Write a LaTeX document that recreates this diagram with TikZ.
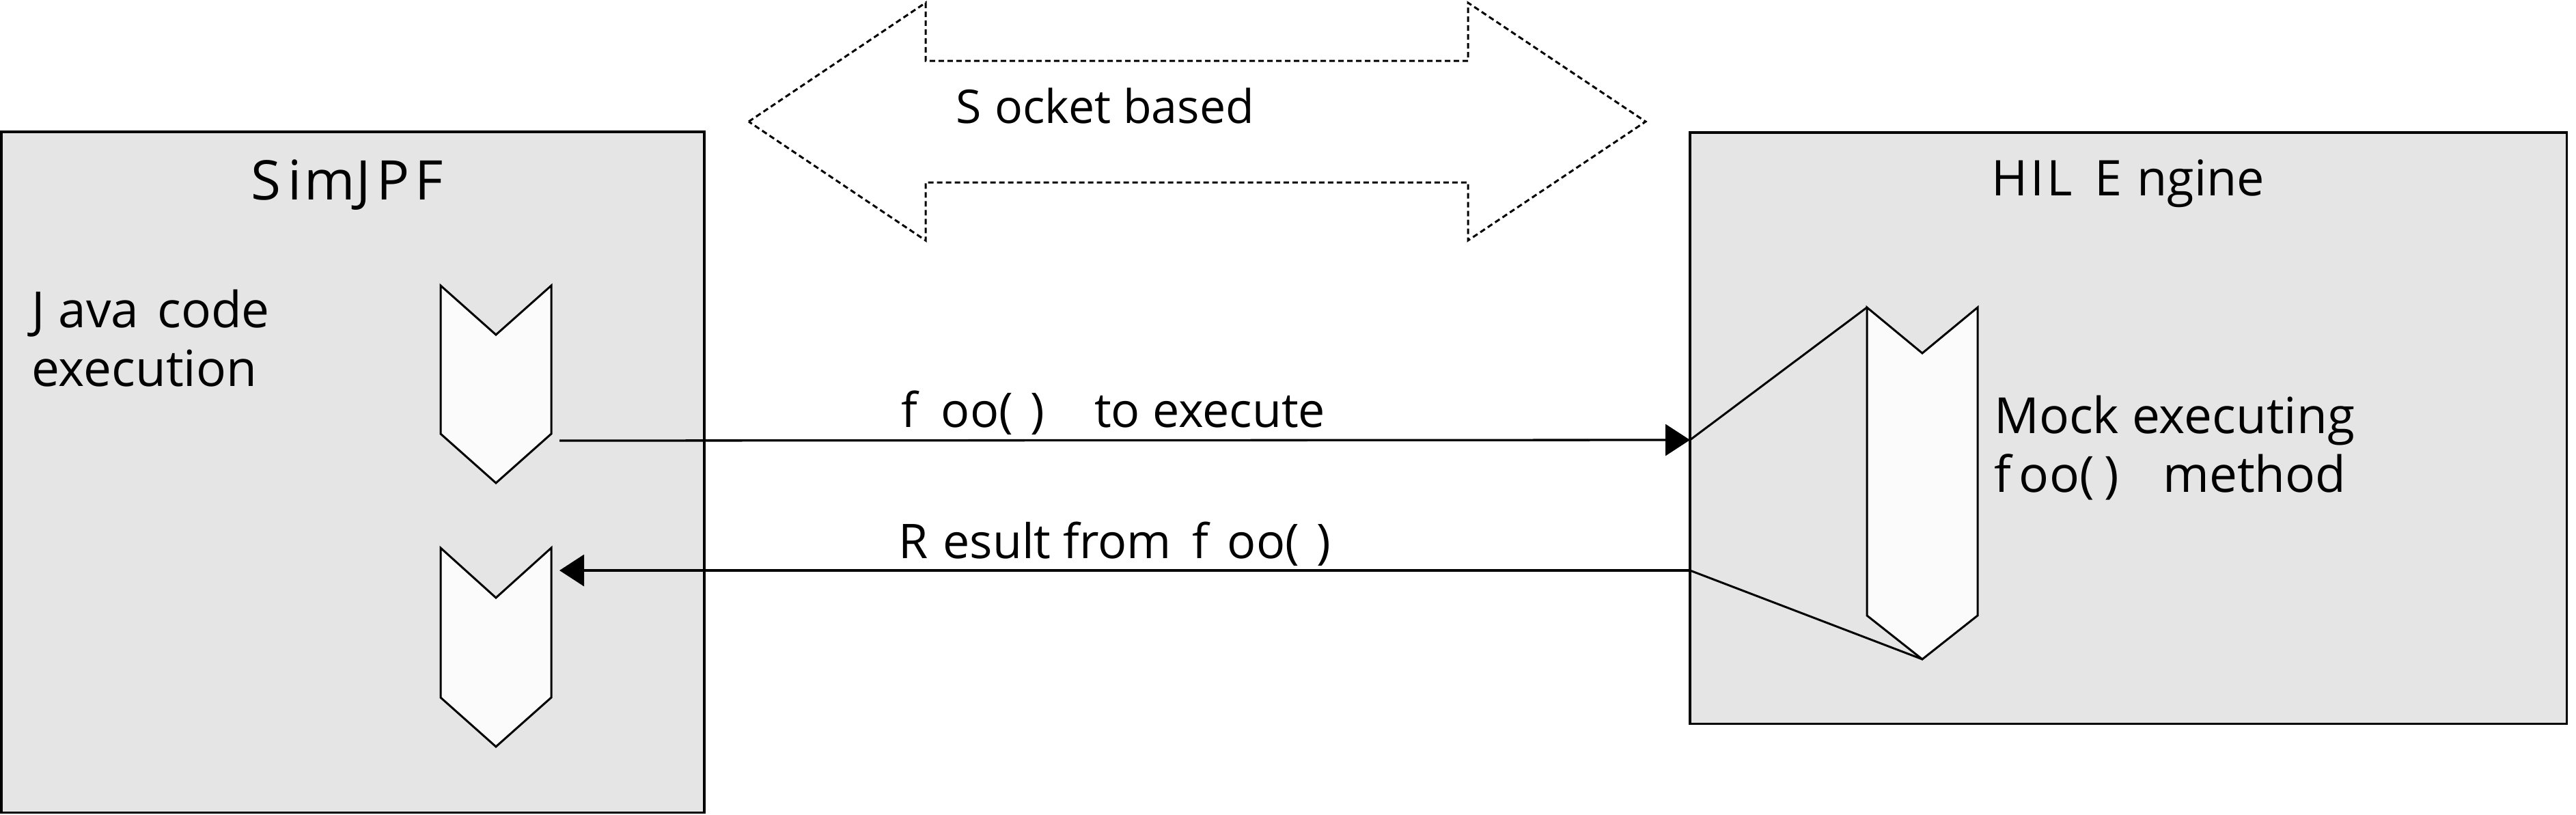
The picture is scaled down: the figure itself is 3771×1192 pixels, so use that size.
\documentclass[tikz,border=0pt]{standalone}
\usepackage{fontspec}
\setmainfont{Open Sans}
\usetikzlibrary{arrows.meta}
\definecolor{boxgray}{RGB}{229,229,229}
\definecolor{chevfill}{RGB}{251,251,251}
\tikzset{
  pane/.style={draw=black, fill=boxgray, line width=3.5pt},
  chev/.style={draw=black, fill=chevfill, line width=3pt, line join=miter},
  socket/.style={draw=black, line width=3pt, dash pattern=on 8pt off 5pt},
  msg/.style={draw=black, line width=3.3pt, -{Triangle[length=36pt,width=46pt]}},
  link/.style={draw=black, line width=3pt},
  lbl/.style={inner sep=0pt, anchor=base west, font=\fontsize{73}{86}\selectfont, align=left},
  lblm/.style={inner sep=0pt, anchor=base west, font=\fontsize{70}{84}\selectfont},
}
\begin{document}
\begin{tikzpicture}[x=1pt,y=-1pt]
\useasboundingbox (0,0) rectangle (3771,1192);
% boxes
\path[pane] (1.75,193) rectangle (1031,1189.5);
\coordinate (simjpf) at (1031,193);
\path[pane] (2474,194) rectangle (3757.5,1059.5);
\coordinate (hil) at (2474,194);
% titles
\node[lbl, font=\fontsize{80}{96}\selectfont] (t1) at (367,292) {S\kern10pt i\kern4pt m\kern2pt J\kern8pt P\kern8pt F};
\node[lbl, font=\fontsize{72}{86}\selectfont] (t2) at (2915,286) {H\kern4pt I\kern4pt L\kern14pt\ E\kern22pt ngine};
% socket arrow
\coordinate (sL) at (1096,178);
\coordinate (sR) at (2409,178);
\path[socket] (sL) -- (1355,4) -- (1355,89) -- (2149,89) -- (2149,4) -- (sR)
  -- (2149,352) -- (2149,267) -- (1355,267) -- (1355,352) -- cycle;
\node[lblm, font=\fontsize{68}{80}\selectfont] (sock) at (1399,180) {S\kern20pt ocket based};
% left texts
\node[lbl] (java) at (46,565) {J\kern20pt ava\kern8pt\ code\\execution};
% chevrons left
\path[chev] (645,418) -- (726,490) -- (807,418) -- (807,635) -- (726,707) -- (645,635) -- cycle;
\path[chev] (645,802) -- (726,875) -- (807,802) -- (807,1021) -- (726,1093) -- (645,1021) -- cycle;
\coordinate (c1) at (819,645);
\coordinate (c2) at (819,835);
% right chevron
\path[chev] (2733,450) -- (2814,517) -- (2895,450) -- (2895,901) -- (2814,965) -- (2733,901) -- cycle;
\coordinate (c3top) at (2733,450);
\coordinate (c3bot) at (2814,965);
\coordinate (h1) at (2474,644);
\coordinate (h2) at (2474,835);
% messages
\draw[msg] (c1) -- (h1);
\draw[msg] (h2) -- (c2);
\draw[link] (h1) -- (c3top);
\draw[link] (h2) -- (c3bot);
\node[lblm] (m1) at (1319,625) {f\kern35pt oo(\kern25pt)\kern55pt\ to execute};
\node[lblm] (m2) at (1315,817) {R\kern22pt esult from\kern12pt\ f\kern28pt oo(\kern25pt)};
\node[lbl] (mock) at (2919,720) {Mock executing\\f\kern12pt oo(\kern15pt)\kern45pt\ method};
\end{tikzpicture}
\end{document}
